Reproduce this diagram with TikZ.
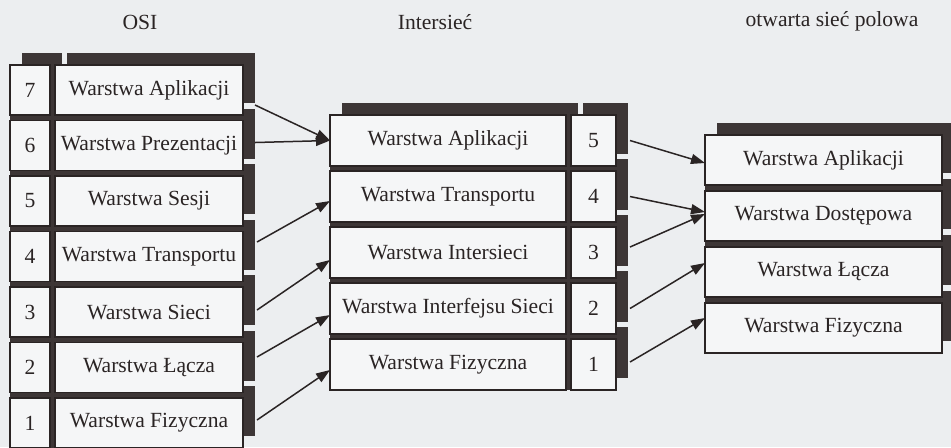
\documentclass[tikz,border=0pt]{standalone}
\usepackage{fontspec}
\setmainfont{Liberation Serif}
\usetikzlibrary{arrows.meta,shadows}
\definecolor{paper}{HTML}{ECEEF0}
\definecolor{cellbg}{HTML}{F5F6F7}
\definecolor{ink}{HTML}{2A2424}
\definecolor{shadowdark}{HTML}{3D3636}
\tikzset{
  cell/.style={draw=ink, line width=0.6pt, fill=cellbg, inner sep=0pt, outer sep=0pt,
    minimum height=25pt, font=\fontsize{10.8}{12}\selectfont, text=ink,
    general shadow={shadow xshift=6pt, shadow yshift=6pt, fill=shadowdark}},
  osinr/.style={cell, minimum width=20pt},
  osiname/.style={cell, minimum width=94pt},
  intname/.style={cell, minimum width=118pt, minimum height=25.5pt},
  intnr/.style={cell, minimum width=22.5pt, minimum height=25.5pt},
  polename/.style={cell, minimum width=118.5pt},
  heading/.style={font=\fontsize{10.8}{12}\selectfont, text=ink},
  link/.style={draw=ink, line width=0.75pt, -{Triangle[length=7pt,width=5pt]}}
}
\begin{document}
\begin{tikzpicture}[x=0.5pt,y=-0.5pt]
      \fill[paper] (0,0) rectangle (951,447);
      \useasboundingbox (0,0) rectangle (951,447);
      \path
        (140,22) node[heading] (osi){OSI}
        (435,22) node[heading] (inter){Intersieć}
        (832,21) node[heading] (pole){otwarta sieć polowa};
      % ciemne tlo pod stosami (widac je w szczelinach)
      \fill[shadowdark] (10,65) rectangle (243,448);
      \fill[shadowdark] (330,115) rectangle (616,390);
      \fill[shadowdark] (705,135) rectangle (942,353);
      % model OSI, od dolu
      \path
        (30,423) node[osinr] (osi1nr){1}
        (149,423) node[osiname] (osi1){Warstwa Fizyczna}
        (30,367.5) node[osinr] (osi2nr){2}
        (149,367.5) node[osiname] (osi2){Warstwa Łącza}
        (30,312) node[osinr] (osi3nr){3}
        (149,312) node[osiname] (osi3){Warstwa Sieci}
        (30,256.5) node[osinr] (osi4nr){4}
        (149,256.5) node[osiname] (osi4){Warstwa Transportu}
        (30,201) node[osinr] (osi5nr){5}
        (149,201) node[osiname] (osi5){Warstwa Sesji}
        (30,145.5) node[osinr] (osi6nr){6}
        (149,145.5) node[osiname] (osi6){Warstwa Prezentacji}
        (30,90) node[osinr] (osi7nr){7}
        (149,90) node[osiname] (osi7){Warstwa Aplikacji};
      % intersiec
      \path
        (448,364.5) node[intname] (int1){Warstwa Fizyczna}
        (593.5,364.5) node[intnr] (int1nr){1}
        (448,308.5) node[intname] (int2){Warstwa Interfejsu Sieci}
        (593.5,308.5) node[intnr] (int2nr){2}
        (448,252.5) node[intname] (int3){Warstwa Intersieci}
        (593.5,252.5) node[intnr] (int3nr){3}
        (448,196.5) node[intname] (int4){Warstwa Transportu}
        (593.5,196.5) node[intnr] (int4nr){4}
        (448,140.5) node[intname] (int5){Warstwa Aplikacji}
        (593.5,140.5) node[intnr] (int5nr){5};
      % siec polowa
      \path
        (823.5,328) node[polename] (pole1){Warstwa Fizyczna}
        (823.5,272) node[polename] (pole2){Warstwa Łącza}
        (823.5,216) node[polename] (pole3){Warstwa Dostępowa}
        (823.5,160) node[polename] (pole4){Warstwa Aplikacji};
      \begin{scope}[link]
        \draw ([xshift=6pt,yshift=-7.5pt]osi7.east) to (int5.west);
        \draw ([xshift=6pt,yshift=1.5pt]osi6.east) to (int5.west);
        \draw ([xshift=7pt,yshift=7.25pt]osi4.east) to ([yshift=-2.25pt]int4.west);
        \draw ([xshift=7pt,yshift=1pt]osi3.east) to ([yshift=-3.75pt]int3.west);
        \draw ([xshift=7pt,yshift=5.25pt]osi2.east) to ([yshift=-3.25pt]int2.west);
        \draw ([xshift=7pt,yshift=1.5pt]osi1.east) to ([yshift=-2.75pt]int1.west);
        \draw ([xshift=7pt]int5nr.east) to ([yshift=-1.5pt]pole4.west);
        \draw ([xshift=7pt]int4nr.east) to ([yshift=2pt]pole3.west);
        \draw ([xshift=7pt,yshift=2.75pt]int3nr.east) to ([yshift=1pt]pole3.west);
        \draw ([xshift=7pt]int2nr.east) to ([yshift=4.5pt]pole2.west);
        \draw ([xshift=7pt,yshift=1.25pt]int1nr.east) to ([yshift=5pt]pole1.west);
      \end{scope}
    \end{tikzpicture}
\end{document}
